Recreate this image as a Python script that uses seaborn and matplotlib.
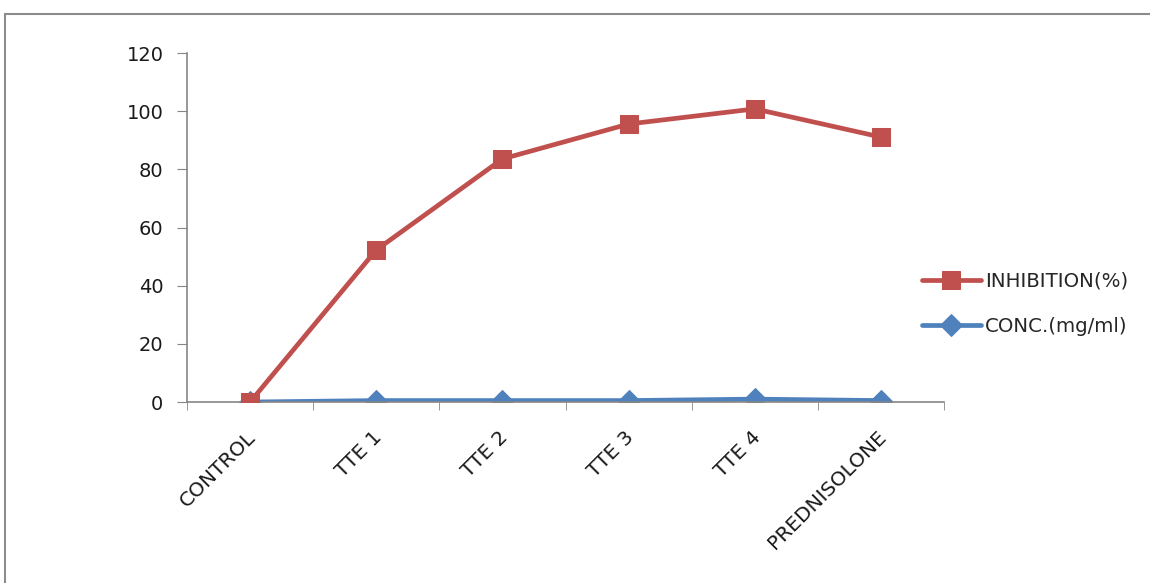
import pandas as pd
import matplotlib
matplotlib.use("Agg")
import matplotlib.pyplot as plt
import matplotlib.transforms as mtransforms
import seaborn as sns
from matplotlib.patches import Rectangle

# Data
categories = ["CONTROL", "TTE 1", "TTE 2", "TTE 3", "TTE 4", "PREDNISOLONE"]
inhibition = [0, 52.3, 83.6, 95.6, 100.8, 91.1]
conc = [0, 0.5, 0.5, 0.5, 1.0, 0.5]

sns.set_style("white")
plt.rcParams["font.family"] = ["DejaVu Sans"]

red = "#C0504D"
blue = "#4F81BD"
grey = "#868686"

fig = plt.figure(figsize=(11.5, 5.83), dpi=100)
ax = fig.add_axes([0.1626, 0.3104, 0.6584, 0.5986])

sns.lineplot(x=categories, y=conc, sort=False, color=blue, linewidth=3.4,
             marker="D", markersize=11, markeredgecolor=blue,
             label="CONC.(mg/ml)", ax=ax, zorder=2)
sns.lineplot(x=categories, y=inhibition, sort=False, color=red, linewidth=3.4,
             marker="s", markersize=13, markeredgecolor=red,
             label="INHIBITION(%)", ax=ax, zorder=3)

ax.set_xlim(-0.5, 5.5)
ax.set_ylim(0, 120)
ax.set_yticks(range(0, 121, 20))
ax.set_xticks(range(len(categories)))
ax.set_xticklabels(categories, rotation=45, ha="right", rotation_mode="anchor")
ax.set_xticks([i - 0.5 for i in range(len(categories) + 1)], minor=True)
ax.tick_params(axis="x", which="major", length=0, pad=6, labelsize=14.5, colors="#1a1a1a")
ax.tick_params(axis="x", which="minor", length=6, color=grey, direction="out", bottom=True)
ax.tick_params(axis="y", length=7, color=grey, direction="out", left=True, labelsize=14,
               pad=10, colors="#1a1a1a")
ax.tick_params(axis="y", colors=grey, which="major", labelcolor="#1a1a1a")
ax.set_xlabel("")
ax.set_ylabel("")

# nudge the rotated category labels down a little
shift = mtransforms.ScaledTranslation(-0.04, -0.17, fig.dpi_scale_trans)
for lbl in ax.get_xticklabels():
    lbl.set_transform(lbl.get_transform() + shift)

for side in ["top", "right"]:
    ax.spines[side].set_visible(False)
for side in ["left", "bottom"]:
    ax.spines[side].set_color(grey)
    ax.spines[side].set_linewidth(1.2)

handles, labels = ax.get_legend_handles_labels()
ax.legend(handles[::-1], labels[::-1], loc="center left",
          bbox_to_anchor=(0.786, 0.479), bbox_transform=fig.transFigure,
          frameon=False, fontsize=14.2, handlelength=3.0, handletextpad=0.2,
          labelspacing=1.35)

# outer chart border (cut off on the right and bottom)
fig.patches.append(Rectangle((5 / 1150, -0.1), 1.2, 1 - 14 / 583 + 0.1,
                             transform=fig.transFigure, fill=False,
                             edgecolor="#8c8c8c", linewidth=1.5))

fig.savefig("out.png", dpi=100)
